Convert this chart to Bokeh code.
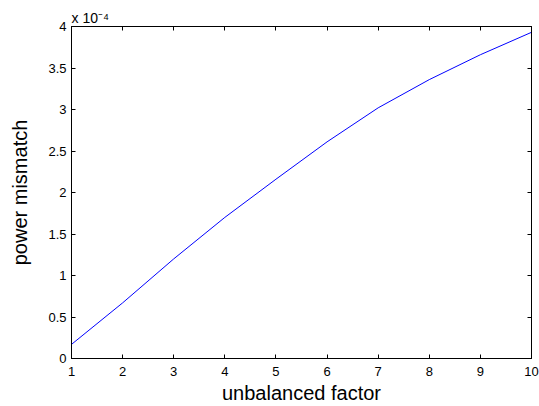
from bokeh.plotting import figure
from bokeh.models import (LinearAxis, FixedTicker, CustomJSTickFormatter, Range1d, Title)
from bokeh.embed import file_html
from bokeh.resources import INLINE

# data
factor = [1, 2, 3, 4, 5, 6, 7, 8, 9, 10]
mismatch = [0.17e-4, 0.67e-4, 1.20e-4, 1.70e-4, 2.16e-4, 2.61e-4, 3.02e-4, 3.36e-4, 3.66e-4, 3.93e-4]
x_ticks = [1, 2, 3, 4, 5, 6, 7, 8, 9, 10]
y_ticks = [0, 0.5e-4, 1e-4, 1.5e-4, 2e-4, 2.5e-4, 3e-4, 3.5e-4, 4e-4]

FONT = "Liberation Sans"

p = figure(width=539, height=406, output_backend="svg", toolbar_location=None,
           x_range=Range1d(1, 10), y_range=Range1d(0, 4e-4),
           min_border_left=71, min_border_right=8, min_border_top=26, min_border_bottom=47)
p.background_fill_color = "white"
p.border_fill_color = "white"
p.grid.visible = False
p.outline_line_color = "black"
p.outline_line_width = 1

p.line(factor, mismatch, line_color="#0000ff", line_width=1)

fmt = CustomJSTickFormatter(code="return String(Math.round(tick*1e5)/10);")
blank = CustomJSTickFormatter(code="return '';")

def style(ax, labels=True):
    ax.major_tick_in = 4
    ax.major_tick_out = 0
    ax.minor_tick_in = 0
    ax.minor_tick_out = 0
    ax.axis_line_color = "black"
    ax.axis_line_width = 1
    ax.major_tick_line_color = "black"
    ax.major_label_text_font = FONT
    ax.major_label_text_color = "black"
    ax.major_label_text_font_size = "13px"
    if not labels:
        ax.formatter = blank
        ax.major_label_standoff = 0

xa = p.xaxis[0]
xa.ticker = FixedTicker(ticks=x_ticks)
style(xa)
xa.major_label_standoff = 8
xa.axis_label = "unbalanced factor"
xa.axis_label_text_font = FONT
xa.axis_label_text_font_size = "20px"
xa.axis_label_text_font_style = "normal"
xa.axis_label_text_color = "black"
xa.axis_label_standoff = 3

ya = p.yaxis[0]
ya.ticker = FixedTicker(ticks=y_ticks)
ya.formatter = fmt
style(ya)
ya.major_label_standoff = 5
ya.axis_label = "power mismatch"
ya.axis_label_text_font = FONT
ya.axis_label_text_font_size = "20px"
ya.axis_label_text_font_style = "normal"
ya.axis_label_text_color = "black"
ya.axis_label_standoff = 14

top = LinearAxis(ticker=FixedTicker(ticks=x_ticks))
style(top, labels=False)
p.add_layout(top, "above")
right = LinearAxis(ticker=FixedTicker(ticks=y_ticks))
style(right, labels=False)
p.add_layout(right, "right")

p.add_layout(Title(text="x 10\u207b\u2074", align="left", text_font=FONT,
                   text_font_size="14px", text_font_style="normal", text_color="black",
                   standoff=1, offset=0), "above")

open("out.html", "w").write(file_html(p, INLINE))
